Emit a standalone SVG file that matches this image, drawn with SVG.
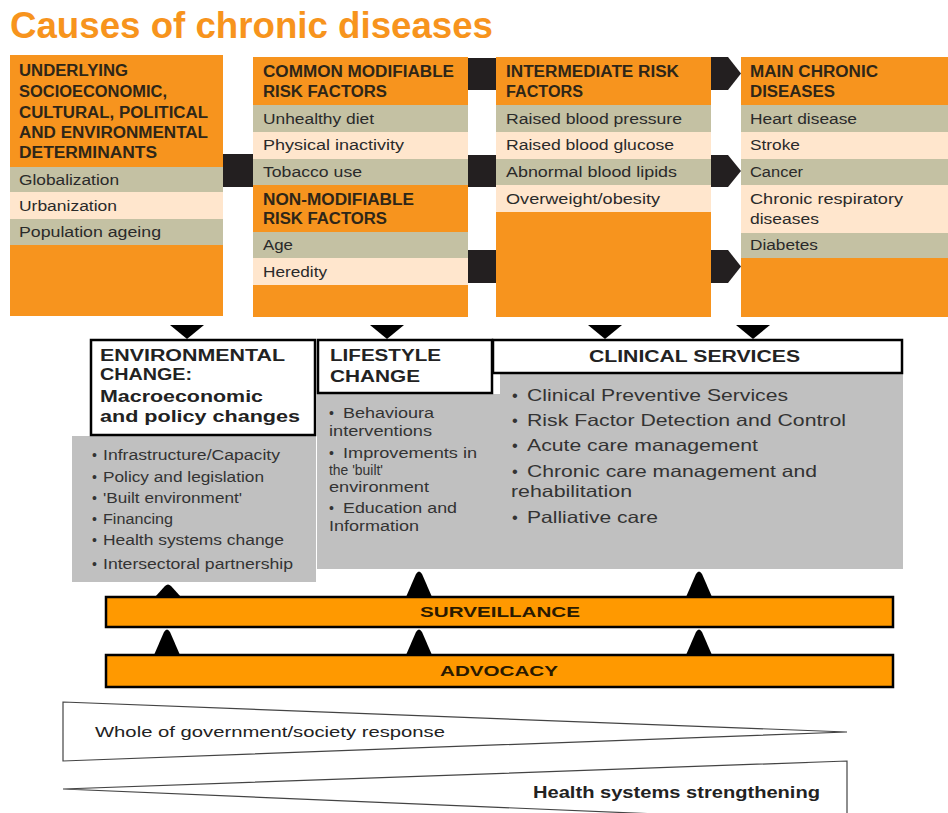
<svg xmlns="http://www.w3.org/2000/svg" width="948" height="813" viewBox="0 0 948 813">
  <style>
    text { font-family: "Liberation Sans", Arial, sans-serif; }
    .title { font-size: 36px; font-weight: bold; fill: #F7941D; }
    .orange { fill: #F7941E; }
    .khaki { fill: #C4C1A3; }
    .cream { fill: #FFE6CD; }
    .hdr { font-size: 16px; font-weight: bold; fill: #2E2618; }
    .row { font-size: 15.5px; fill: #2A2A2A; }
    .link { fill: #231F20; }
    .box { fill: #FFFFFF; stroke: #000000; stroke-width: 2.5; }
    .panel { fill: #C0C0C0; }
    .boxt { font-size: 16px; font-weight: bold; fill: #222222; }
    .item { font-size: 14px; fill: #333333; }
    .citem { font-size: 16.5px; fill: #333333; }
    .bar { fill: #FF9900; stroke: #000000; stroke-width: 2.5; }
    .bart { font-size: 15px; font-weight: bold; fill: #2A1A00; }
    .wedge { fill: none; stroke: #444444; stroke-width: 1.2; }
    .wtxt { font-size: 15px; fill: #222222; }
    .wtxtb { font-size: 17px; font-weight: bold; fill: #222222; }
    .tri { fill: #000000; }
  </style>

  <rect width="948" height="813" fill="#FFFFFF"/>

  <text class="title" x="10" y="38" textLength="483" lengthAdjust="spacingAndGlyphs">Causes of chronic diseases</text>

  <!-- connectors between the cause columns -->
  <g id="connectors">
    <rect class="link" x="222" y="154" width="32" height="33"/>
    <rect class="link" x="467" y="58" width="30" height="32"/>
    <rect class="link" x="467" y="155" width="30" height="32"/>
    <rect class="link" x="467" y="250" width="30" height="33"/>
    <path class="link" d="M710,57 H728 L741,73.5 L728,90 H710 Z"/>
    <path class="link" d="M710,155 H728 L741,171 L728,187 H710 Z"/>
    <path class="link" d="M710,250 H728 L741,266.5 L728,283 H710 Z"/>
    <!-- down arrows into the action boxes -->
    <path class="tri" d="M170,325 H204 L187,339 Z"/>
    <path class="tri" d="M370,325 H404 L387,339 Z"/>
    <path class="tri" d="M588,325 H622 L605,339 Z"/>
    <path class="tri" d="M736,325 H770 L753,339 Z"/>
    <!-- up arrows from surveillance -->
    <path class="tri" d="M155,597 L165,586 Q168,583 171,586 L181,597 Z"/>
    <path class="tri" d="M406,597 L416,574 Q419,569 422,574 L432,597 Z"/>
    <path class="tri" d="M686,597 L696,574 Q699,569 702,574 L712,597 Z"/>
    <!-- up arrows from advocacy -->
    <path class="tri" d="M154,655 L164,632 Q167,627 170,632 L180,655 Z"/>
    <path class="tri" d="M406,655 L416,632 Q419,627 422,632 L432,655 Z"/>
    <path class="tri" d="M686,655 L696,632 Q699,627 702,632 L712,655 Z"/>
  </g>

  <!-- column 1: underlying determinants -->
  <g id="col-determinants">
    <rect class="orange" x="10" y="55" width="213" height="261"/>
    <rect class="khaki" x="10" y="167" width="213" height="25"/>
    <rect class="cream" x="10" y="192" width="213" height="27"/>
    <rect class="khaki" x="10" y="219" width="213" height="26"/>
    <text class="hdr" x="19" y="76" textLength="109" lengthAdjust="spacingAndGlyphs">UNDERLYING</text>
    <text class="hdr" x="19" y="97" textLength="148" lengthAdjust="spacingAndGlyphs">SOCIOECONOMIC,</text>
    <text class="hdr" x="19" y="118" textLength="189" lengthAdjust="spacingAndGlyphs">CULTURAL, POLITICAL</text>
    <text class="hdr" x="19" y="138" textLength="189" lengthAdjust="spacingAndGlyphs">AND ENVIRONMENTAL</text>
    <text class="hdr" x="19" y="158" textLength="138" lengthAdjust="spacingAndGlyphs">DETERMINANTS</text>
    <text class="row" x="19" y="185" textLength="100" lengthAdjust="spacingAndGlyphs">Globalization</text>
    <text class="row" x="19" y="211" textLength="98" lengthAdjust="spacingAndGlyphs">Urbanization</text>
    <text class="row" x="19" y="237" textLength="142" lengthAdjust="spacingAndGlyphs">Population ageing</text>
  </g>

  <!-- column 2: risk factors -->
  <g id="col-risk-factors">
    <rect class="orange" x="253" y="57" width="215" height="260"/>
    <rect class="khaki" x="253" y="105" width="215" height="27"/>
    <rect class="cream" x="253" y="132" width="215" height="27"/>
    <rect class="khaki" x="253" y="159" width="215" height="26"/>
    <rect class="khaki" x="253" y="232" width="215" height="26"/>
    <rect class="cream" x="253" y="258" width="215" height="27"/>
    <text class="hdr" x="263" y="77" textLength="191" lengthAdjust="spacingAndGlyphs">COMMON MODIFIABLE</text>
    <text class="hdr" x="263" y="97" textLength="124" lengthAdjust="spacingAndGlyphs">RISK FACTORS</text>
    <text class="row" x="263" y="124" textLength="111" lengthAdjust="spacingAndGlyphs">Unhealthy diet</text>
    <text class="row" x="263" y="150" textLength="141" lengthAdjust="spacingAndGlyphs">Physical inactivity</text>
    <text class="row" x="263" y="177" textLength="99" lengthAdjust="spacingAndGlyphs">Tobacco use</text>
    <text class="hdr" x="263" y="205" textLength="151" lengthAdjust="spacingAndGlyphs">NON-MODIFIABLE</text>
    <text class="hdr" x="263" y="224" textLength="124" lengthAdjust="spacingAndGlyphs">RISK FACTORS</text>
    <text class="row" x="263" y="250" textLength="30" lengthAdjust="spacingAndGlyphs">Age</text>
    <text class="row" x="263" y="277" textLength="64" lengthAdjust="spacingAndGlyphs">Heredity</text>
  </g>

  <!-- column 3: intermediate risk factors -->
  <g id="col-intermediate">
    <rect class="orange" x="496" y="57" width="215" height="260"/>
    <rect class="khaki" x="496" y="105" width="215" height="27"/>
    <rect class="cream" x="496" y="132" width="215" height="27"/>
    <rect class="khaki" x="496" y="159" width="215" height="26"/>
    <rect class="cream" x="496" y="185" width="215" height="27"/>
    <text class="hdr" x="506" y="77" textLength="173" lengthAdjust="spacingAndGlyphs">INTERMEDIATE RISK</text>
    <text class="hdr" x="506" y="97" textLength="77" lengthAdjust="spacingAndGlyphs">FACTORS</text>
    <text class="row" x="506" y="124" textLength="176" lengthAdjust="spacingAndGlyphs">Raised blood pressure</text>
    <text class="row" x="506" y="150" textLength="168" lengthAdjust="spacingAndGlyphs">Raised blood glucose</text>
    <text class="row" x="506" y="177" textLength="171" lengthAdjust="spacingAndGlyphs">Abnormal blood lipids</text>
    <text class="row" x="506" y="204" textLength="154" lengthAdjust="spacingAndGlyphs">Overweight/obesity</text>
  </g>

  <!-- column 4: main chronic diseases -->
  <g id="col-diseases">
    <rect class="orange" x="741" y="57" width="207" height="260"/>
    <rect class="khaki" x="741" y="105" width="207" height="27"/>
    <rect class="cream" x="741" y="132" width="207" height="27"/>
    <rect class="khaki" x="741" y="159" width="207" height="26"/>
    <rect class="cream" x="741" y="185" width="207" height="48"/>
    <rect class="khaki" x="741" y="233" width="207" height="25"/>
    <text class="hdr" x="750" y="77" textLength="128" lengthAdjust="spacingAndGlyphs">MAIN CHRONIC</text>
    <text class="hdr" x="750" y="97" textLength="85" lengthAdjust="spacingAndGlyphs">DISEASES</text>
    <text class="row" x="750" y="124" textLength="107" lengthAdjust="spacingAndGlyphs">Heart disease</text>
    <text class="row" x="750" y="150" textLength="50" lengthAdjust="spacingAndGlyphs">Stroke</text>
    <text class="row" x="750" y="177" textLength="53" lengthAdjust="spacingAndGlyphs">Cancer</text>
    <text class="row" x="750" y="204" textLength="153" lengthAdjust="spacingAndGlyphs">Chronic respiratory</text>
    <text class="row" x="750" y="224" textLength="69" lengthAdjust="spacingAndGlyphs">diseases</text>
    <text class="row" x="750" y="250" textLength="68" lengthAdjust="spacingAndGlyphs">Diabetes</text>
  </g>

  <!-- environmental change -->
  <g id="environmental-change">
    <rect class="panel" x="72" y="436" width="244" height="146"/>
    <rect class="box" x="91" y="340" width="224" height="95"/>
    <text class="boxt" x="100" y="361" textLength="185" lengthAdjust="spacingAndGlyphs">ENVIRONMENTAL</text>
    <text class="boxt" x="100" y="380" textLength="92" lengthAdjust="spacingAndGlyphs">CHANGE:</text>
    <text class="boxt" x="100" y="402" textLength="163" lengthAdjust="spacingAndGlyphs">Macroeconomic</text>
    <text class="boxt" x="100" y="422" textLength="200" lengthAdjust="spacingAndGlyphs">and policy changes</text>
    <text class="item" x="92" y="460">•</text>
    <text class="item" x="103" y="460" textLength="177" lengthAdjust="spacingAndGlyphs">Infrastructure/Capacity</text>
    <text class="item" x="92" y="482">•</text>
    <text class="item" x="103" y="482" textLength="161" lengthAdjust="spacingAndGlyphs">Policy and legislation</text>
    <text class="item" x="92" y="503">•</text>
    <text class="item" x="103" y="503" textLength="139" lengthAdjust="spacingAndGlyphs">'Built environment'</text>
    <text class="item" x="92" y="524">•</text>
    <text class="item" x="103" y="524" textLength="70" lengthAdjust="spacingAndGlyphs">Financing</text>
    <text class="item" x="92" y="545">•</text>
    <text class="item" x="103" y="545" textLength="181" lengthAdjust="spacingAndGlyphs">Health systems change</text>
    <text class="item" x="92" y="569">•</text>
    <text class="item" x="103" y="569" textLength="190" lengthAdjust="spacingAndGlyphs">Intersectoral partnership</text>
  </g>

  <!-- lifestyle change -->
  <g id="lifestyle-change">
    <rect class="panel" x="317" y="394" width="183" height="175"/>
    <rect class="box" x="318" y="340" width="174" height="53"/>
    <text class="boxt" x="330" y="361" textLength="111" lengthAdjust="spacingAndGlyphs">LIFESTYLE</text>
    <text class="boxt" x="330" y="382" textLength="90" lengthAdjust="spacingAndGlyphs">CHANGE</text>
    <text class="item" x="329" y="418">•</text>
    <text class="item" x="343" y="418" textLength="91" lengthAdjust="spacingAndGlyphs">Behavioura</text>
    <text class="item" x="329" y="436" textLength="103" lengthAdjust="spacingAndGlyphs">interventions</text>
    <text class="item" x="329" y="458">•</text>
    <text class="item" x="343" y="458" textLength="134" lengthAdjust="spacingAndGlyphs">Improvements in</text>
    <text class="item" x="329" y="475" textLength="54" lengthAdjust="spacingAndGlyphs">the 'built'</text>
    <text class="item" x="329" y="492" textLength="100" lengthAdjust="spacingAndGlyphs">environment</text>
    <text class="item" x="329" y="513">•</text>
    <text class="item" x="343" y="513" textLength="114" lengthAdjust="spacingAndGlyphs">Education and</text>
    <text class="item" x="329" y="531" textLength="90" lengthAdjust="spacingAndGlyphs">Information</text>
  </g>

  <!-- clinical services -->
  <g id="clinical-services">
    <rect class="panel" x="500" y="373" width="403" height="196"/>
    <rect class="box" x="493" y="340" width="409" height="33"/>
    <text class="boxt" x="589" y="362" textLength="211" lengthAdjust="spacingAndGlyphs">CLINICAL SERVICES</text>
    <text class="citem" x="512" y="401">•</text>
    <text class="citem" x="527" y="401" textLength="261" lengthAdjust="spacingAndGlyphs">Clinical Preventive Services</text>
    <text class="citem" x="512" y="426">•</text>
    <text class="citem" x="527" y="426" textLength="319" lengthAdjust="spacingAndGlyphs">Risk Factor Detection and Control</text>
    <text class="citem" x="512" y="451">•</text>
    <text class="citem" x="527" y="451" textLength="231" lengthAdjust="spacingAndGlyphs">Acute care management</text>
    <text class="citem" x="512" y="477">•</text>
    <text class="citem" x="527" y="477" textLength="290" lengthAdjust="spacingAndGlyphs">Chronic care management and</text>
    <text class="citem" x="511" y="497" textLength="121" lengthAdjust="spacingAndGlyphs">rehabilitation</text>
    <text class="citem" x="512" y="523">•</text>
    <text class="citem" x="527" y="523" textLength="131" lengthAdjust="spacingAndGlyphs">Palliative care</text>
  </g>

  <!-- surveillance and advocacy bars -->
  <g id="surveillance">
    <rect class="bar" x="106" y="597" width="787" height="30"/>
    <text class="bart" x="500" y="617" text-anchor="middle" textLength="160" lengthAdjust="spacingAndGlyphs">SURVEILLANCE</text>
  </g>
  <g id="advocacy">
    <rect class="bar" x="106" y="655" width="787" height="32"/>
    <text class="bart" x="499" y="676" text-anchor="middle" textLength="118" lengthAdjust="spacingAndGlyphs">ADVOCACY</text>
  </g>

  <!-- response wedges -->
  <g id="whole-of-government">
    <path class="wedge" d="M63,702 L847,732 L63,761 Z"/>
    <text class="wtxt" x="95" y="737" textLength="350" lengthAdjust="spacingAndGlyphs">Whole of government/society response</text>
  </g>
  <g id="health-systems">
    <path class="wedge" d="M847,813 V761 L63,789 L847,822"/>
    <text class="wtxtb" x="533" y="798" textLength="287" lengthAdjust="spacingAndGlyphs">Health systems strengthening</text>
  </g>
</svg>
